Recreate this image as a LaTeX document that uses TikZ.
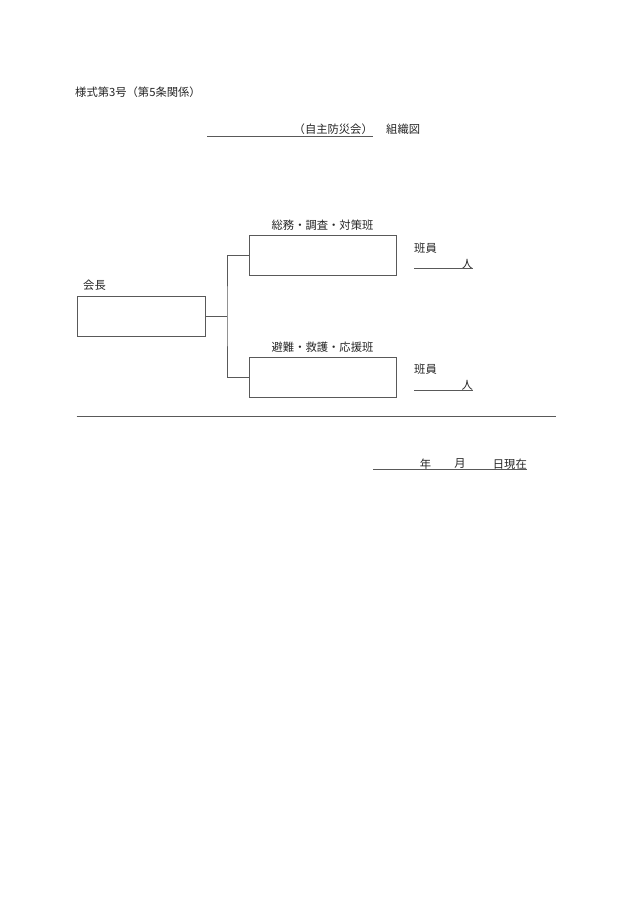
\documentclass[tikz,border=0pt]{standalone}
\usepackage{fontspec}
\setmainfont{Noto Sans CJK JP}
\begin{document}
\begin{tikzpicture}[x=1pt,y=-1pt,
  ln/.style={draw=black!65,line width=0.8pt},
  bx/.style={ln,rectangle,minimum width=147pt,minimum height=40pt,inner sep=0pt},
  tx/.style={font=\fontsize{11.3}{13}\selectfont,inner sep=0pt,text=black!85}]
\useasboundingbox[fill=white] (0,0) rectangle (630,916);
% header
\node[tx,anchor=west] (form) at (75,92) {様式第3号（第5条関係）};
\node[tx,anchor=east] (org) at (373,129) {（自主防災会）};
\node[tx,anchor=west] (chart) at (386,129) {組織図};
\coordinate (ulA) at (207,136);
\coordinate (ulB) at (373,136);
\draw[ln] (ulA) -- (ulB);
% boxes
\node[bx,minimum width=128pt] (chair) at (141,316) {};
\node[bx] (g1) at (322.5,255) {};
\node[bx] (g2) at (322.5,377) {};
\node[tx,anchor=west] (chairL) at (83,285) {会長};
\node[tx] (g1L) at (322.5,225) {総務・調査・対策班};
\node[tx] (g2L) at (322.5,347) {避難・救護・応援班};
% connectors
\coordinate (jn) at (227,316);
\draw[ln] (chair.east) -- (jn);
\draw[ln] (g1.west) -| (jn) |- (g2.west);
% members
\node[tx,anchor=west] (m1) at (414,248) {班員};
\node[tx,anchor=east] (p1) at (473,264) {人};
\coordinate (u1a) at (414,268.5);
\coordinate (u1b) at (473,268.5);
\draw[ln] (u1a) -- (u1b);
\node[tx,anchor=west] (m2) at (414,369) {班員};
\node[tx,anchor=east] (p2) at (473,385) {人};
\coordinate (u2a) at (414,390);
\coordinate (u2b) at (473,390);
\draw[ln] (u2a) -- (u2b);
% rule
\coordinate (hrA) at (76.5,416);
\coordinate (hrB) at (556,416);
\draw[ln] (hrA) -- (hrB);
% date
\node[tx] (yr) at (425.5,464) {年};
\node[tx] (mo) at (460,464) {月};
\node[tx,anchor=east] (dy) at (527,464) {日現在};
\coordinate (dA) at (373,469.5);
\coordinate (dB) at (527,469.5);
\draw[ln] (dA) -- (dB);
\end{tikzpicture}
\end{document}
